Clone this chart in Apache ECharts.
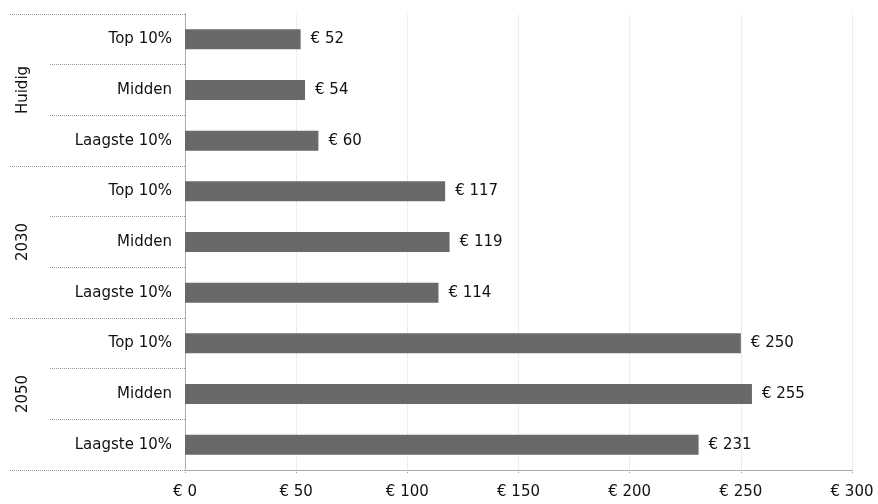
<!DOCTYPE html>
<html>
<head>
<meta charset="utf-8">
<script src="https://cdn.jsdelivr.net/npm/echarts@6/dist/echarts.min.js"></script>
<style>
  html, body { margin: 0; padding: 0; background: #fff; }
  #chart { width: 878px; height: 504px; }
</style>
</head>
<body>
<div id="chart"></div>
<script>
// Scenario groups (top to bottom) and income brackets within each group
const groups = ['Huidig', '2030', '2050'];
const brackets = ['Top 10%', 'Midden', 'Laagste 10%'];
// Monthly cost in euro per group, in bracket order
const valuesHuidig = [52, 54, 60];
const values2030 = [117, 119, 114];
const values2050 = [250, 255, 231];
// Value axis ticks
const xTicks = [0, 50, 100, 150, 200, 250, 300];

const rowLabels = [];
const rowValues = [];
[valuesHuidig, values2030, values2050].forEach(function (vals) {
  vals.forEach(function (v, i) {
    rowLabels.push(brackets[i]);
    rowValues.push(v);
  });
});

const FONT = 'DejaVu Sans';
const TXT = '#111111';
const DOT = { color: '#9a9a9a', type: 'dotted', width: 1 };

const chart = echarts.init(document.getElementById('chart'));
chart.setOption({
  animation: false,
  backgroundColor: '#ffffff',
  grid: { left: 185, right: 26, top: 14, bottom: 34, containLabel: false },
  xAxis: {
    type: 'value',
    min: xTicks[0],
    max: xTicks[xTicks.length - 1],
    interval: xTicks[1] - xTicks[0],
    axisLine: { show: true, lineStyle: DOT },
    axisTick: { show: true, length: 4, lineStyle: { color: '#9a9a9a', type: 'dotted' } },
    splitLine: { show: true, lineStyle: { color: '#dcdcdc', type: 'dotted', width: 1 } },
    axisLabel: {
      margin: 15,
      fontFamily: FONT,
      fontSize: 15,
      color: TXT,
      formatter: function (v) { return '€ ' + v; }
    }
  },
  yAxis: [
    {
      type: 'category',
      inverse: true,
      data: rowLabels,
      position: 'left',
      axisLine: { show: true, lineStyle: DOT },
      axisTick: { show: true, length: 135, lineStyle: DOT },
      splitLine: { show: false },
      axisLabel: {
        margin: 13,
        fontFamily: FONT,
        fontSize: 15,
        color: TXT
      }
    },
    {
      type: 'category',
      inverse: true,
      data: groups,
      position: 'left',
      axisLine: { show: false },
      axisTick: { show: true, length: 175, lineStyle: DOT },
      splitLine: { show: false },
      axisLabel: {
        margin: 154,
        rotate: 90,
        fontFamily: FONT,
        fontSize: 15,
        color: TXT
      }
    }
  ],
  series: [{
    type: 'bar',
    yAxisIndex: 0,
    data: rowValues,
    barWidth: 20,
    itemStyle: { color: '#696969' },
    label: {
      show: true,
      position: 'right',
      distance: 10,
      fontFamily: FONT,
      fontSize: 15,
      color: TXT,
      formatter: function (p) { return '€ ' + p.value; }
    }
  }]
});
</script>
</body>
</html>
